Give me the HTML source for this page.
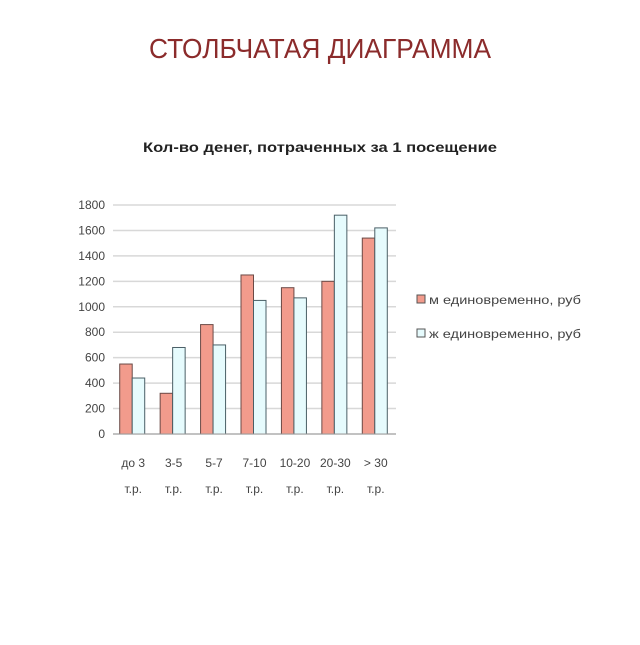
<!DOCTYPE html>
<html><head><meta charset="utf-8"><style>
body{margin:0;background:#fff;width:640px;height:640px;overflow:hidden;font-family:"Liberation Sans",sans-serif}
</style></head><body>
<svg width="640" height="640" xmlns="http://www.w3.org/2000/svg">
<text x="320" y="58" text-anchor="middle" font-size="28" fill="#8b2b2b" textLength="342" lengthAdjust="spacingAndGlyphs">СТОЛБЧАТАЯ ДИАГРАММА</text>
<text x="320" y="152" text-anchor="middle" font-size="14" font-weight="bold" fill="#222" textLength="354" lengthAdjust="spacingAndGlyphs">Кол-во денег, потраченных за 1 посещение</text>
<g id="grid"></g><g id="bars"></g><g id="axes"></g>
<g>
<rect x="417" y="295" width="8" height="8" fill="#f29b8c" stroke="#555"/>
<text x="429" y="304" font-size="12" fill="#444" textLength="152" lengthAdjust="spacingAndGlyphs">м единовременно, руб</text>
<rect x="417" y="329" width="8" height="8" fill="#e6fbfd" stroke="#555"/>
<text x="429" y="338" font-size="12" fill="#444" textLength="152" lengthAdjust="spacingAndGlyphs">ж единовременно, руб</text>
</g>
</svg>
<script>
const categories=["до 3|т.р.","3-5|т.р.","5-7|т.р.","7-10|т.р.","10-20|т.р.","20-30|т.р.","> 30|т.р."];
const seriesM=[550,320,860,1250,1150,1200,1540];
const seriesF=[440,680,700,1050,1070,1720,1620];
const yTicks=[0,200,400,600,800,1000,1200,1400,1600,1800];
const NS="http://www.w3.org/2000/svg";
const x0=113,x1=396,y0=434,y1=205,yMax=1800;
const gw=(x1-x0)/categories.length, bw=12.5;
const y=v=>y0-(v/yMax)*(y0-y1);
const xg=i=>x0+i*gw;
function mk(tag,attrs,parent){const e=document.createElementNS(NS,tag);for(const k in attrs)e.setAttribute(k,attrs[k]);document.getElementById(parent).appendChild(e);return e;}
yTicks.forEach(t=>{
 const l=mk('line',{x1:x0,x2:x1,y1:y(t),y2:y(t),stroke:'#d8d8d8','stroke-width':1.5},'grid');
 
 
 const tx=mk('text',{x:x0-8,y:y(t)+4,'text-anchor':'end','font-size':12,fill:'#444'},'axes');
 tx.textContent=t;
 
 
});
categories.forEach((c,i)=>{
 const cx=xg(i)+gw/2;
 const r=mk('rect',{x:cx-bw-1,y:y(seriesM[i]),width:bw,height:y0-y(seriesM[i]),fill:'#f29b8c',stroke:'#6b4a46','stroke-width':1},'bars');
 
 
 const b=mk('rect',{x:cx-1,y:y(seriesF[i]),width:bw,height:y0-y(seriesF[i]),fill:'#e6fbfd',stroke:'#4a5f66','stroke-width':1},'bars');
 
 
 const parts=c.split('|');
 parts.forEach((p,k)=>{
  const t=mk('text',{x:cx,y:467+k*26,'text-anchor':'middle','font-size':12,fill:'#444'},'axes');
  t.textContent=p;
  
  
 });
});
const ax=mk('line',{x1:x0,x2:x1,y1:y0,y2:y0,stroke:'#999','stroke-width':1},'axes');


</script>
</body></html>
